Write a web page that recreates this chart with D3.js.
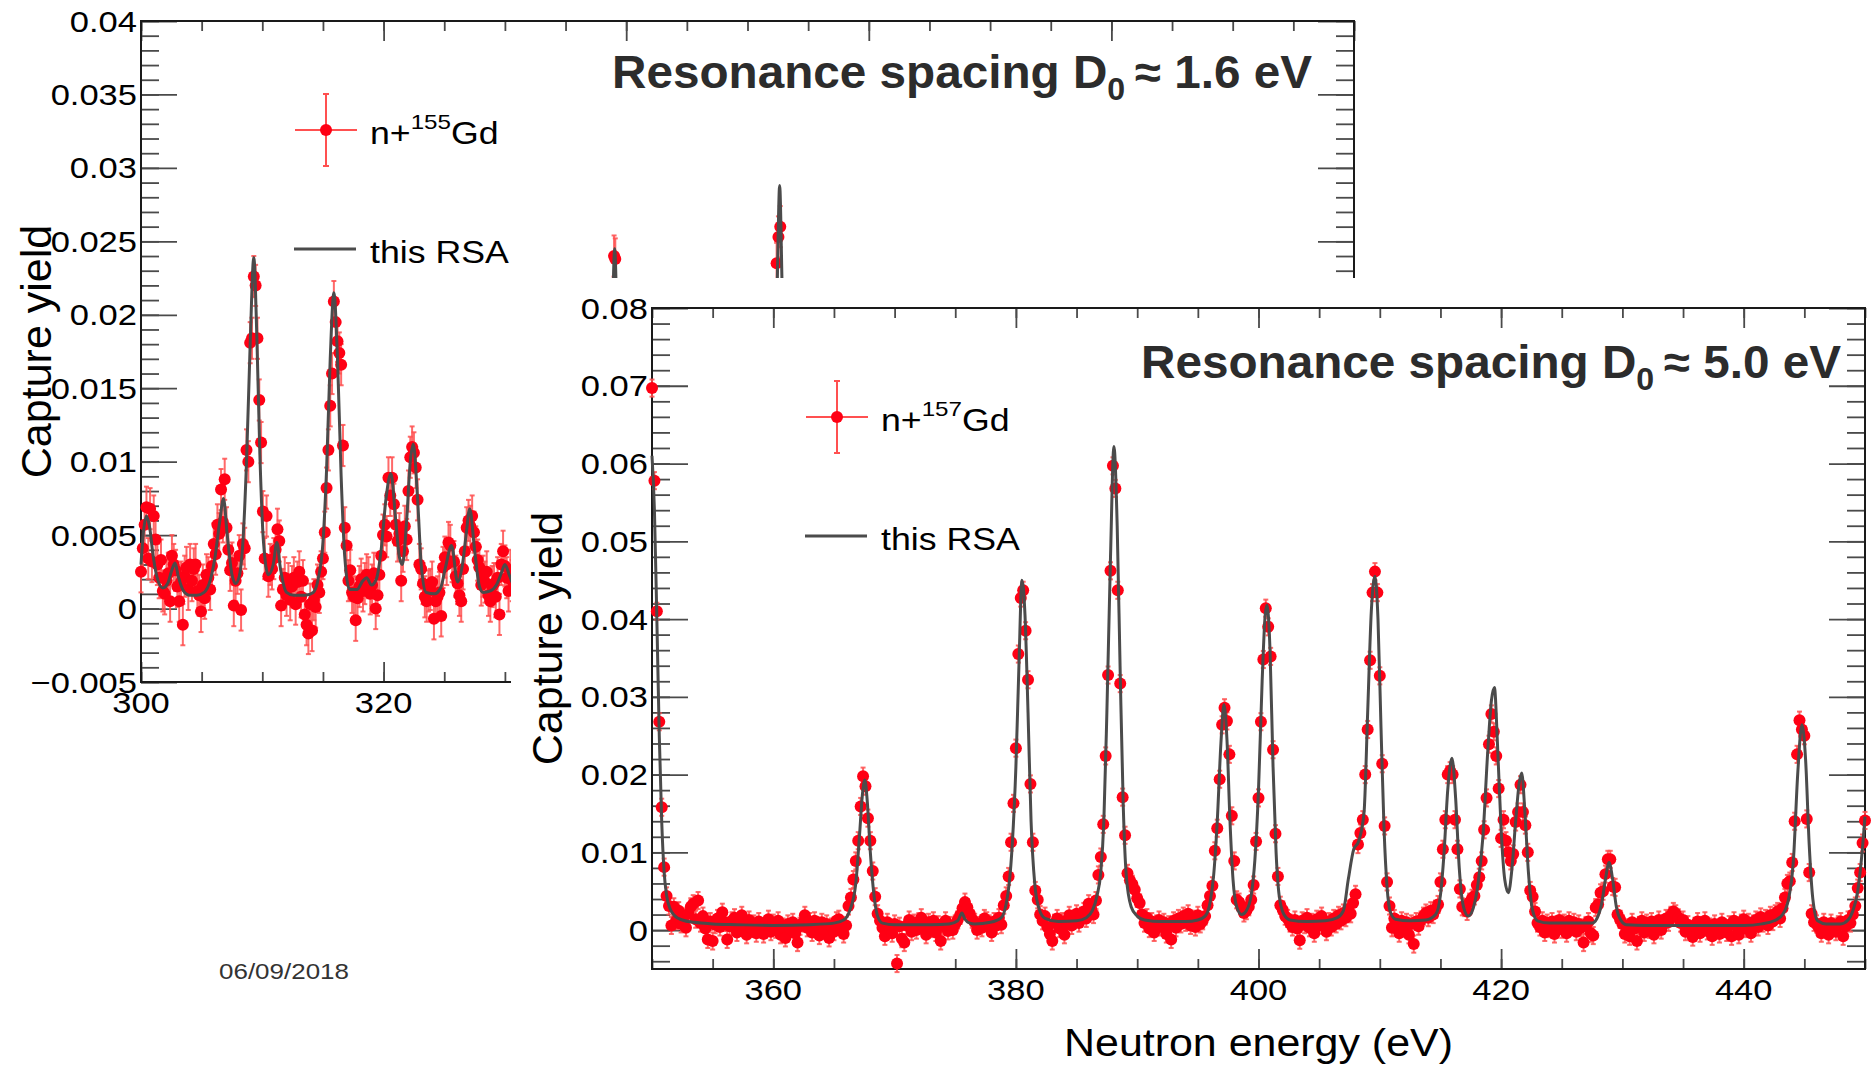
<!DOCTYPE html>
<html>
<head>
<meta charset="utf-8">
<script src="https://cdn.jsdelivr.net/npm/d3@7"></script>
<style>
  html, body { margin: 0; padding: 0; background: #ffffff; }
  svg { display: block; }
  text { font-family: "Liberation Sans", Arial, Helvetica, sans-serif; fill: #000; }
</style>
</head>
<body>
<svg id="chart" width="1876" height="1067"></svg>
<script>
// ---------------------------------------------------------------------------
// n + 155Gd capture yield, histogram bins of 0.15 eV starting at 300 eV
// ---------------------------------------------------------------------------
const gd155BinStart = 300.0;
const gd155BinWidth = 0.15;
const gd155Yield = [
  0.0025, 0.0041, 0.0057, 0.0069, 0.0034, 0.0068, 0.0032, 0.0063, 0.0047, 0.0030,
  0.0021, 0.0033, 0.0012, 0.0010, 0.0019, 0.0024, 0.0005, 0.0036, 0.0030, 0.0026,
  0.0015, 0.0005, 0.0018, -0.0011, 0.0022, 0.0028, 0.0013, 0.0030, 0.0019, 0.0027,
  0.0030, 0.0012, 0.0009, -0.0002, 0.0016, 0.0007, 0.0023, 0.0021, 0.0013, 0.0029,
  0.0044, 0.0037, 0.0057, 0.0051, 0.0081, 0.0059, 0.0088, 0.0055, 0.0040, 0.0026,
  0.0031, 0.0002, 0.0019, 0.0024, 0.0036, -0.0001, 0.0044, 0.0041, 0.0108, 0.0100,
  0.0181, 0.0184, 0.0226, 0.0220, 0.0184, 0.0142, 0.0113, 0.0066, 0.0034, 0.0063,
  0.0022, 0.0030, 0.0027, 0.0034, 0.0040, 0.0054, 0.0046, 0.0002, 0.0013, 0.0021,
  0.0009, 0.0017, 0.0006, 0.0015, 0.0021, 0.0003, 0.0018, 0.0025, 0.0008, 0.0019,
  -0.0004, -0.0011, -0.0017, 0.0003, -0.0015, 0.0006, 0.0001, 0.0016, 0.0011, 0.0025,
  0.0034, 0.0052, 0.0082, 0.0108, 0.0138, 0.0160, 0.0209, 0.0195, 0.0182, 0.0174,
  0.0166, 0.0111, 0.0055, 0.0043, 0.0019, 0.0026, 0.0011, 0.0008, -0.0008, 0.0007,
  0.0015, 0.0020, 0.0012, 0.0017, 0.0023, 0.0021, 0.0010, 0.0016, 0.0024, 0.0000,
  0.0009, 0.0023, 0.0036, 0.0050, 0.0057, 0.0049, 0.0089, 0.0077, 0.0089, 0.0071,
  0.0057, 0.0046, 0.0051, 0.0019, 0.0039, 0.0056, 0.0047, 0.0080, 0.0103, 0.0110,
  0.0106, 0.0096, 0.0074, 0.0030, 0.0027, 0.0017, 0.0008, 0.0005, 0.0012, 0.0013,
  0.0018, -0.0007, 0.0005, 0.0008, 0.0011, -0.0005, 0.0028, 0.0035, 0.0030, 0.0045,
  0.0043, 0.0032, 0.0032, 0.0022, 0.0017, 0.0009, 0.0005, 0.0027, 0.0039, 0.0055,
  0.0060, 0.0056, 0.0063, 0.0052, 0.0042, 0.0033, 0.0028, 0.0016, 0.0022, 0.0018,
  0.0025, 0.0009, 0.0005, 0.0015, 0.0017, 0.0008, 0.0021, -0.0004, 0.0030, 0.0039,
  0.0029, 0.0021, 0.0012, 0.0026, 0.0019
];
// resonance tops of n + 155Gd further up in energy: [energy (eV), yield]
const gd155Tops = [[339.0, 0.0240], [339.1, 0.0238], [352.4, 0.0235], [352.55, 0.0253], [352.7, 0.0260]];
const gd155Uncertainty = 0.0014;

// resonance shape analysis curve for n + 155Gd: [energy (eV), yield]
const gd155Rsa = [
  [300.0,0.0030],[300.2,0.0052],[300.45,0.0063],[300.7,0.0056],[301.0,0.0036],[301.4,0.0019],
  [301.8,0.0014],[302.2,0.0017],[302.5,0.0025],[302.8,0.0031],[303.1,0.0021],[303.5,0.0012],
  [304.0,0.0009],[304.6,0.0009],[305.2,0.0011],[305.7,0.0019],[306.1,0.0035],[306.5,0.0060],
  [306.8,0.0075],[307.1,0.0051],[307.5,0.0023],[307.8,0.0017],[308.1,0.0022],[308.4,0.0045],
  [308.7,0.0100],[309.0,0.0180],[309.3,0.0239],[309.55,0.0185],[309.8,0.0105],[310.1,0.0045],
  [310.5,0.0023],[310.9,0.0030],[311.2,0.0045],[311.5,0.0027],[312.0,0.0011],[312.6,0.0009],
  [313.5,0.0009],[314.2,0.0011],[314.6,0.0020],[315.0,0.0045],[315.3,0.0095],[315.6,0.0170],
  [315.9,0.0215],[316.2,0.0170],[316.5,0.0090],[316.8,0.0035],[317.2,0.0013],[317.8,0.0013],
  [318.3,0.0019],[318.6,0.0021],[319.0,0.0016],[319.4,0.0020],[319.8,0.0040],[320.2,0.0075],
  [320.6,0.0092],[321.0,0.0060],[321.3,0.0035],[321.55,0.0030],[321.9,0.0060],[322.2,0.0100],
  [322.45,0.0112],[322.8,0.0075],[323.1,0.0030],[323.5,0.0011],[324.2,0.0010],[324.7,0.0014],
  [325.1,0.0028],[325.6,0.0043],[326.1,0.0018],[326.5,0.0030],[326.8,0.0050],[327.1,0.0068],
  [327.5,0.0040],[327.9,0.0015],[328.2,0.0011],[328.8,0.0012],[329.3,0.0016],[329.7,0.0024],
  [330.0,0.0030],[330.4,0.0022],[330.8,0.0015],[337.8,0.0015],[338.5,0.0060],[338.85,0.0190],
  [339.05,0.0245],[339.25,0.0190],[339.6,0.0060],[340.3,0.0015],[351.4,0.0015],[352.1,0.0080],
  [352.45,0.0220],[352.65,0.0288],[352.85,0.0220],[353.2,0.0080],[353.9,0.0015]
];

// ---------------------------------------------------------------------------
// n + 157Gd capture yield, histogram bins of 0.2 eV starting at 350 eV
// ---------------------------------------------------------------------------
const gd157BinStart = 350.0;
const gd157BinWidth = 0.2;
const gd157Yield = [
  0.0697, 0.0578, 0.0410, 0.0268, 0.0158, 0.0081, 0.0044, 0.0031, 0.0006, 0.0030,
  0.0012, 0.0025, 0.0008, 0.0017, 0.0003, 0.0021, 0.0030, 0.0034, 0.0014, 0.0038,
  0.0009, 0.0018, 0.0002, -0.0012, 0.0011, -0.0014, 0.0007, 0.0015, 0.0004, 0.0023,
  0.0010, -0.0012, 0.0005, 0.0012, 0.0016, -0.0003, 0.0009, 0.0019, 0.0006, -0.0006,
  0.0013, 0.0002, 0.0008, -0.0004, 0.0011, 0.0003, -0.0005, 0.0007, 0.0014, -0.0002,
  0.0009, 0.0001, 0.0012, -0.0006, 0.0004, -0.0010, 0.0008, 0.0002, 0.0010, -0.0004,
  -0.0016, 0.0005, 0.0009, 0.0019, 0.0003, 0.0011, -0.0003, 0.0012, 0.0006, -0.0007,
  0.0010, 0.0001, 0.0008, -0.0010, 0.0004, -0.0002, 0.0012, 0.0014, 0.0002, -0.0005,
  0.0006, 0.0031, 0.0042, 0.0065, 0.0089, 0.0115, 0.0159, 0.0198, 0.0185, 0.0144,
  0.0115, 0.0076, 0.0043, 0.0021, 0.0012, 0.0003, -0.0008, 0.0010, 0.0002, -0.0004,
  0.0008, -0.0043, 0.0005, -0.0011, -0.0016, 0.0006, 0.0013, -0.0002, 0.0009, 0.0000,
  0.0011, 0.0016, 0.0004, -0.0006, 0.0010, 0.0002, 0.0012, -0.0003, 0.0007, -0.0014,
  0.0005, 0.0012, -0.0001, 0.0006, 0.0000, 0.0008, 0.0013, 0.0019, 0.0028, 0.0036,
  0.0029, 0.0021, 0.0014, 0.0010, 0.0000, 0.0006, 0.0003, 0.0015, 0.0012, 0.0008,
  -0.0003, 0.0011, 0.0006, 0.0016, 0.0007, 0.0032, 0.0044, 0.0069, 0.0113, 0.0163,
  0.0234, 0.0355, 0.0427, 0.0437, 0.0385, 0.0322, 0.0188, 0.0113, 0.0051, 0.0039,
  0.0020, 0.0012, 0.0018, 0.0004, -0.0005, -0.0014, 0.0009, 0.0015, 0.0002, 0.0011,
  -0.0006, 0.0008, 0.0019, 0.0006, 0.0013, 0.0021, 0.0009, 0.0018, 0.0024, 0.0015,
  0.0034, 0.0027, 0.0020, 0.0038, 0.0071, 0.0094, 0.0136, 0.0224, 0.0328, 0.0462,
  0.0597, 0.0568, 0.0437, 0.0317, 0.0171, 0.0122, 0.0073, 0.0064, 0.0059, 0.0052,
  0.0041, 0.0035, 0.0020, 0.0009, 0.0016, 0.0002, 0.0011, -0.0003, 0.0008, 0.0013,
  0.0004, 0.0010, -0.0005, 0.0007, -0.0012, 0.0012, 0.0003, 0.0015, 0.0008, 0.0018,
  0.0010, 0.0021, 0.0006, 0.0014, 0.0004, 0.0019, 0.0008, 0.0012, 0.0018, 0.0032,
  0.0044, 0.0057, 0.0102, 0.0131, 0.0194, 0.0264, 0.0286, 0.0269, 0.0226, 0.0147,
  0.0089, 0.0039, 0.0036, 0.0029, 0.0022, 0.0025, 0.0030, 0.0039, 0.0058, 0.0114,
  0.0170, 0.0268, 0.0348, 0.0414, 0.0390, 0.0352, 0.0232, 0.0124, 0.0069, 0.0032,
  0.0026, 0.0018, 0.0015, 0.0009, 0.0004, 0.0013, 0.0002, -0.0013, 0.0012, 0.0007,
  0.0016, 0.0003, 0.0010, -0.0004, 0.0014, 0.0006, 0.0018, 0.0009, -0.0002, 0.0011,
  0.0004, 0.0015, 0.0008, 0.0019, 0.0012, 0.0022, 0.0016, 0.0027, 0.0021, 0.0035,
  0.0046, 0.0110, 0.0125, 0.0142, 0.0200, 0.0258, 0.0347, 0.0434, 0.0461, 0.0434,
  0.0327, 0.0214, 0.0134, 0.0062, 0.0031, 0.0003, 0.0015, 0.0007, -0.0004, 0.0012,
  0.0003, 0.0010, -0.0006, 0.0008, -0.0018, 0.0011, 0.0005, 0.0013, 0.0018, 0.0022,
  0.0016, 0.0025, 0.0020, 0.0027, 0.0033, 0.0062, 0.0104, 0.0142, 0.0200, 0.0205,
  0.0200, 0.0142, 0.0104, 0.0053, 0.0030, 0.0029, 0.0024, 0.0036, 0.0041, 0.0044,
  0.0058, 0.0068, 0.0089, 0.0129, 0.0170, 0.0239, 0.0278, 0.0255, 0.0224, 0.0182,
  0.0118, 0.0142, 0.0115, 0.0100, 0.0089, 0.0098, 0.0139, 0.0152, 0.0187, 0.0152,
  0.0135, 0.0100, 0.0051, 0.0043, 0.0024, 0.0009, 0.0004, 0.0012, -0.0003, 0.0009,
  0.0002, 0.0011, -0.0005, 0.0007, 0.0013, 0.0001, 0.0009, -0.0004, 0.0012, 0.0005,
  0.0010, -0.0002, 0.0008, 0.0003, -0.0016, 0.0006, 0.0011, -0.0004, -0.0007, 0.0029,
  0.0033, 0.0048, 0.0050, 0.0072, 0.0091, 0.0091, 0.0056, 0.0055, 0.0020, 0.0014,
  0.0008, -0.0005, 0.0003, -0.0008, 0.0010, 0.0002, -0.0014, 0.0006, 0.0012, -0.0003,
  0.0009, 0.0001, 0.0011, -0.0006, 0.0004, 0.0013, 0.0000, 0.0008, 0.0015, 0.0010,
  0.0019, 0.0024, 0.0021, 0.0016, 0.0009, 0.0013, -0.0002, 0.0007, 0.0001, -0.0009,
  0.0005, 0.0011, -0.0004, 0.0006, 0.0012, -0.0001, 0.0004, -0.0008, 0.0008, 0.0002,
  -0.0005, 0.0010, 0.0003, -0.0003, 0.0007, -0.0008, 0.0012, 0.0005, -0.0006, 0.0009,
  0.0014, 0.0002, 0.0010, -0.0004, 0.0008, 0.0013, 0.0004, 0.0017, 0.0009, 0.0015,
  0.0006, 0.0019, 0.0011, 0.0021, 0.0024, 0.0015, 0.0028, 0.0042, 0.0060, 0.0063,
  0.0087, 0.0140, 0.0226, 0.0270, 0.0258, 0.0250, 0.0143, 0.0074, 0.0021, 0.0010,
  0.0008, 0.0003, -0.0004, 0.0010, 0.0002, -0.0006, 0.0009, 0.0004, -0.0002, 0.0007,
  0.0011, -0.0008, 0.0005, 0.0013, 0.0009, 0.0020, 0.0031, 0.0054, 0.0074, 0.0112,
  0.0141
];
const gd157Uncertainty = 0.0011;

// resonance shape analysis curve for n + 157Gd: [energy (eV), yield]
const gd157Rsa = [
  [350.0,0.0610],[350.2,0.0540],[350.4,0.0400],[350.6,0.0250],[350.8,0.0140],[351.0,0.0075],
  [351.2,0.0045],[351.5,0.0027],[351.9,0.0018],[352.5,0.0013],[353.5,0.0010],[355.0,0.0008],
  [357.0,0.0007],[360.0,0.0006],[363.0,0.0007],[365.0,0.0009],[365.8,0.0013],[366.3,0.0025],
  [366.8,0.0060],[367.1,0.0120],[367.35,0.0175],[367.55,0.0193],[367.75,0.0165],[368.0,0.0100],
  [368.3,0.0045],[368.6,0.0018],[369.0,0.0009],[370.0,0.0007],[373.0,0.0007],[374.5,0.0008],
  [375.2,0.0012],[375.55,0.0022],[375.8,0.0014],[376.2,0.0009],[376.6,0.0008],[377.9,0.0010],
  [378.8,0.0016],[379.2,0.0034],[379.45,0.0060],[379.7,0.0110],[380.0,0.0210],[380.25,0.0340],
  [380.5,0.0450],[380.75,0.0405],[381.0,0.0280],[381.25,0.0140],[381.55,0.0060],[381.9,0.0028],
  [382.4,0.0015],[383.5,0.0011],[385.0,0.0012],[385.8,0.0016],[386.3,0.0025],[386.7,0.0045],
  [387.0,0.0075],[387.25,0.0140],[387.5,0.0280],[387.8,0.0480],[388.08,0.0622],[388.35,0.0520],
  [388.6,0.0330],[388.85,0.0160],[389.1,0.0070],[389.5,0.0030],[390.0,0.0018],[390.6,0.0013],
  [392.0,0.0011],[394.0,0.0011],[395.0,0.0013],[395.6,0.0018],[396.0,0.0035],[396.3,0.0070],
  [396.6,0.0140],[396.9,0.0240],[397.15,0.0290],[397.4,0.0245],[397.65,0.0140],[397.9,0.0065],
  [398.2,0.0030],[398.6,0.0020],[399.0,0.0025],[399.4,0.0045],[399.7,0.0090],[400.0,0.0180],
  [400.3,0.0320],[400.55,0.0405],[400.7,0.0418],[400.95,0.0360],[401.2,0.0210],[401.45,0.0100],
  [401.7,0.0045],[402.1,0.0020],[402.6,0.0013],[404.0,0.0011],[405.5,0.0012],[406.5,0.0016],
  [407.0,0.0025],[407.4,0.0065],[407.85,0.0104],[408.25,0.0114],[408.7,0.0151],[409.0,0.0280],
  [409.3,0.0410],[409.6,0.0455],[409.85,0.0400],[410.1,0.0260],[410.35,0.0130],[410.6,0.0055],
  [410.9,0.0022],[411.3,0.0014],[412.5,0.0012],[413.8,0.0013],[414.6,0.0020],[415.0,0.0045],
  [415.3,0.0100],[415.6,0.0180],[415.95,0.0221],[416.25,0.0170],[416.55,0.0080],[416.9,0.0030],
  [417.3,0.0018],[417.7,0.0028],[418.1,0.0060],[418.5,0.0120],[418.9,0.0230],[419.2,0.0295],
  [419.45,0.0312],[419.7,0.0240],[420.0,0.0130],[420.3,0.0065],[420.6,0.0048],[420.9,0.0080],
  [421.2,0.0140],[421.5,0.0190],[421.7,0.0202],[421.95,0.0155],[422.25,0.0075],[422.6,0.0025],
  [423.0,0.0012],[424.0,0.0009],[426.0,0.0009],[427.5,0.0009],[427.9,0.0015],[428.3,0.0035],
  [428.6,0.0065],[428.9,0.0087],[429.2,0.0065],[429.5,0.0030],[429.9,0.0012],[430.3,0.0007],
  [432.0,0.0006],[436.0,0.0006],[440.0,0.0006],[441.5,0.0008],[442.5,0.0012],[443.2,0.0020],
  [443.7,0.0040],[444.1,0.0090],[444.45,0.0200],[444.8,0.0264],[445.1,0.0220],[445.4,0.0110],
  [445.7,0.0040],[446.1,0.0012],[446.8,0.0008],[448.0,0.0008],[448.6,0.0013],[449.0,0.0025],
  [449.4,0.0050],[449.7,0.0090],[450.0,0.0146]
];

// axis ticks and labels (the 155Gd energy axis is labelled only where it is not covered)
const xTicks155 = [300, 320, 340, 360, 380, 400];
const xTickLabels155 = ["300", "320"];
const yTicks155 = [-0.005, 0, 0.005, 0.01, 0.015, 0.02, 0.025, 0.03, 0.035, 0.04];
const yTickLabels155 = ["\u22120.005", "0", "0.005", "0.01", "0.015", "0.02", "0.025", "0.03", "0.035", "0.04"];
const xTicks157 = [360, 380, 400, 420, 440];
const xTickLabels157 = ["360", "380", "400", "420", "440"];
const yTicks157 = [0, 0.01, 0.02, 0.03, 0.04, 0.05, 0.06, 0.07, 0.08];
const yTickLabels157 = ["0", "0.01", "0.02", "0.03", "0.04", "0.05", "0.06", "0.07", "0.08"];

// ---------------------------------------------------------------------------
const svg = d3.select("#chart");
const FRAME_W = 1213, FRAME_H = 661;
const MARKER = "#ff0014";
const ERRBAR = "#ff5050";
const CURVE = "#4b4b4b";
const WIDEN = 1.15;   // horizontal widening of the regular labels

function widen(sel, k) {
  sel.each(function () {
    const len = this.getComputedTextLength();
    d3.select(this).attr("textLength", len * k).attr("lengthAdjust", "spacingAndGlyphs");
  });
}

function drawPanel(cfg) {
  const g = svg.append("g");
  const left = cfg.left, top = cfg.top, right = left + FRAME_W, bottom = top + FRAME_H;
  const x = d3.scaleLinear().domain(cfg.xDomain).range([left, right]);
  const y = d3.scaleLinear().domain(cfg.yDomain).range([bottom, top]);

  // inward ticks on all four sides
  const styleAxis = a => {
    a.select(".domain").remove();
    a.selectAll("text").remove();
    a.selectAll("line").attr("stroke", "#4a4a4a").attr("stroke-width", 1.8);
  };
  const xMinor = d3.range(cfg.xDomain[0], cfg.xDomain[1] + 1e-9, cfg.xMinorStep);
  const yMinor = d3.range(cfg.yMinorFrom, cfg.yDomain[1] + 1e-9, cfg.yMinorStep);
  const xMaj = 20, xMin = 10, yMaj = 36, yMin = 18;
  g.append("g").attr("transform", `translate(0,${bottom})`).call(d3.axisBottom(x).tickValues(xMinor).tickSize(-xMin)).call(styleAxis);
  g.append("g").attr("transform", `translate(0,${bottom})`).call(d3.axisBottom(x).tickValues(cfg.xTicks).tickSize(-xMaj)).call(styleAxis);
  g.append("g").attr("transform", `translate(0,${top})`).call(d3.axisTop(x).tickValues(xMinor).tickSize(-xMin)).call(styleAxis);
  g.append("g").attr("transform", `translate(0,${top})`).call(d3.axisTop(x).tickValues(cfg.xTicks).tickSize(-xMaj)).call(styleAxis);
  g.append("g").attr("transform", `translate(${left},0)`).call(d3.axisLeft(y).tickValues(yMinor).tickSize(-yMin)).call(styleAxis);
  g.append("g").attr("transform", `translate(${left},0)`).call(d3.axisLeft(y).tickValues(cfg.yTicks).tickSize(-yMaj)).call(styleAxis);
  g.append("g").attr("transform", `translate(${right},0)`).call(d3.axisRight(y).tickValues(yMinor).tickSize(-yMin)).call(styleAxis);
  g.append("g").attr("transform", `translate(${right},0)`).call(d3.axisRight(y).tickValues(cfg.yTicks).tickSize(-yMaj)).call(styleAxis);

  g.append("rect").attr("x", left).attr("y", top).attr("width", FRAME_W).attr("height", FRAME_H)
    .attr("fill", "none").attr("stroke", "#1a1a1a").attr("stroke-width", 2);

  // tick labels
  g.append("g").selectAll("text").data(cfg.yTicks).join("text")
    .attr("x", left - 4).attr("y", d => y(d) + 10.5)
    .attr("text-anchor", "end").attr("font-size", 30)
    .text((d, i) => cfg.yTickLabels[i]).call(widen, WIDEN);
  g.append("g").selectAll("text").data(cfg.xTicks.slice(0, cfg.xTickLabels.length)).join("text")
    .attr("x", d => x(d)).attr("y", bottom + 31)
    .attr("text-anchor", "middle").attr("font-size", 30)
    .text((d, i) => cfg.xTickLabels[i]).call(widen, WIDEN);

  // axis titles
  g.append("text").attr("transform", `translate(${left - 90},${top + FRAME_H / 2}) rotate(-90)`)
    .attr("text-anchor", "middle").attr("font-size", 43).text("Capture yield");
  if (cfg.xTitle) {
    g.append("text").attr("x", left + FRAME_W / 2).attr("y", bottom + 87)
      .attr("text-anchor", "middle").attr("font-size", 38)
      .attr("textLength", 389).attr("lengthAdjust", "spacingAndGlyphs")
      .text(cfg.xTitle);
  }

  // measured points
  const pts = cfg.yields.map((v, i) => ({ e: cfg.binStart + i * cfg.binWidth, v }))
    .concat(cfg.extra.map(([e, v]) => ({ e, v })));
  const err = cfg.uncertainty;
  const dg = g.append("g");
  dg.selectAll("line.eb").data(pts).join("line").attr("class", "eb")
    .attr("x1", d => x(d.e)).attr("x2", d => x(d.e))
    .attr("y1", d => y(d.v - err)).attr("y2", d => y(d.v + err))
    .attr("stroke", ERRBAR).attr("stroke-width", 2).attr("opacity", 0.85);
  ["lo", "hi"].forEach(k => {
    dg.selectAll("line.cap" + k).data(pts).join("line").attr("class", "cap" + k)
      .attr("x1", d => x(d.e) - 2.5).attr("x2", d => x(d.e) + 2.5)
      .attr("y1", d => y(k === "lo" ? d.v - err : d.v + err))
      .attr("y2", d => y(k === "lo" ? d.v - err : d.v + err))
      .attr("stroke", ERRBAR).attr("stroke-width", 2).attr("opacity", 0.85);
  });
  dg.selectAll("circle").data(pts).join("circle")
    .attr("cx", d => x(d.e)).attr("cy", d => y(d.v)).attr("r", 6)
    .attr("fill", MARKER);

  // resonance shape analysis curve
  g.append("path").datum(cfg.rsa)
    .attr("d", d3.line().x(d => x(d[0])).y(d => y(d[1])).curve(d3.curveMonotoneX))
    .attr("fill", "none").attr("stroke", CURVE).attr("stroke-width", 3);

  // legend
  const mx = left + 185, my = top + 109;
  const lg = g.append("g");
  lg.append("line").attr("x1", mx - 31).attr("x2", mx + 31).attr("y1", my).attr("y2", my)
    .attr("stroke", ERRBAR).attr("stroke-width", 2);
  lg.append("line").attr("x1", mx).attr("x2", mx).attr("y1", my - 36).attr("y2", my + 36)
    .attr("stroke", ERRBAR).attr("stroke-width", 2);
  [my - 36, my + 36].forEach(cy => lg.append("line").attr("x1", mx - 3).attr("x2", mx + 3)
    .attr("y1", cy).attr("y2", cy).attr("stroke", ERRBAR).attr("stroke-width", 2));
  lg.append("circle").attr("cx", mx).attr("cy", my).attr("r", 6).attr("fill", MARKER);
  const t1 = lg.append("text").attr("x", left + 229).attr("y", top + 123).attr("font-size", 31);
  t1.append("tspan").text("n+");
  t1.append("tspan").attr("font-size", 21).attr("dy", -15).text(cfg.isotope);
  t1.append("tspan").attr("dy", 15).text("Gd");
  t1.call(widen, WIDEN);
  lg.append("line").attr("x1", left + 153).attr("x2", left + 215)
    .attr("y1", top + 228).attr("y2", top + 228).attr("stroke", CURVE).attr("stroke-width", 3);
  lg.append("text").attr("x", left + 229).attr("y", top + 242).attr("font-size", 31)
    .text("this RSA").call(widen, WIDEN);

  // title
  const tt = g.append("text").attr("x", cfg.titleX).attr("y", cfg.titleY)
    .attr("font-size", 46).attr("font-weight", "bold").style("fill", "#2c2c2c")
    .attr("textLength", 700).attr("lengthAdjust", "spacingAndGlyphs");
  tt.append("tspan").text("Resonance spacing D");
  tt.append("tspan").attr("font-size", 31).attr("dy", 12).text("0");
  tt.append("tspan").attr("dy", -12).text("\u2009\u2248 " + cfg.spacing + " eV");
}

// n + 155Gd panel (behind)
drawPanel({
  left: 141, top: 21,
  xDomain: [300, 400], yDomain: [-0.005, 0.04],
  xTicks: xTicks155, xTickLabels: xTickLabels155,
  yTicks: yTicks155, yTickLabels: yTickLabels155,
  xMinorStep: 5, yMinorFrom: -0.005, yMinorStep: 0.001,
  yields: gd155Yield, binStart: gd155BinStart, binWidth: gd155BinWidth,
  extra: gd155Tops, uncertainty: gd155Uncertainty, rsa: gd155Rsa,
  isotope: "155", spacing: "1.6", titleX: 612, titleY: 88, xTitle: null
});

// n + 157Gd panel (in front, on its own white sheet)
svg.append("rect").attr("x", 511).attr("y", 278).attr("width", 1876 - 511).attr("height", 1067 - 278)
  .attr("fill", "#ffffff");
drawPanel({
  left: 652, top: 308,
  xDomain: [350, 450], yDomain: [-0.005, 0.08],
  xTicks: xTicks157, xTickLabels: xTickLabels157,
  yTicks: yTicks157, yTickLabels: yTickLabels157,
  xMinorStep: 5, yMinorFrom: -0.004, yMinorStep: 0.002,
  yields: gd157Yield, binStart: gd157BinStart, binWidth: gd157BinWidth,
  extra: [], uncertainty: gd157Uncertainty, rsa: gd157Rsa,
  isotope: "157", spacing: "5.0", titleX: 1141, titleY: 378, xTitle: "Neutron energy (eV)"
});

// slide date
svg.append("text").attr("x", 219).attr("y", 979).attr("font-size", 22)
  .attr("textLength", 130).attr("lengthAdjust", "spacingAndGlyphs")
  .style("fill", "#333").text("06/09/2018");
</script>
</body>
</html>
